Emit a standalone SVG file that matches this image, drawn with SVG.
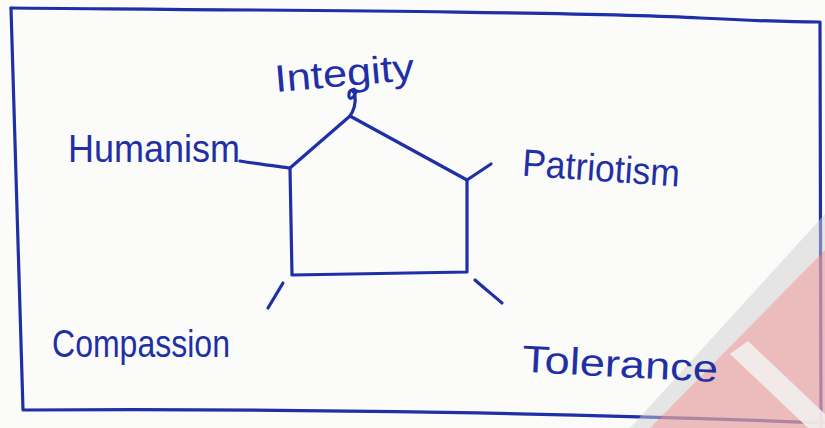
<svg xmlns="http://www.w3.org/2000/svg" width="825" height="428" viewBox="0 0 825 428">
<style>
.ink{fill:none;stroke:#1f2fa6;stroke-width:3.2;stroke-linecap:round;stroke-linejoin:round}
.lbl{font-family:"Liberation Sans","DejaVu Sans",sans-serif;font-size:38px;fill:#1f2fa6}
</style>
<rect x="0" y="0" width="825" height="428" fill="#fbfbfa"/>
<g id="frame">
<path class="ink" stroke-width="3.8" d="M11,8 C250,10 600,12 700,18 C760,21 790,22 820,22 L821,428"/>
<path class="ink" stroke-width="3.8" d="M11,8 L23,410 C300,408 600,414 825,423"/>
</g>
<g id="watermark">
<polygon points="825,214 825,250 650,428 630,428" fill="#cfcfcf" opacity="0.5"/>
<polygon points="825,250 825,428 650,428" fill="#e6a3a3" opacity="0.72"/>
<polygon points="730,354 748,341 825,414 825,428 808,428" fill="#f3eded" opacity="0.9"/>
</g>
<g id="house">
<path class="ink" d="M350,116 L290,168 L292,275 L467,272 L467,180 Z"/>
</g>
<g id="connectors">
<path class="ink" d="M240,161 C258,164 275,166 290,168"/>
<path class="ink" d="M350,116 C354,110 356,104 355,96 C354,90 350,88 349,94 C348,100 353,100 356,92"/>
<path class="ink" d="M467,180 L491,164"/>
<path class="ink" d="M283,283 L268,308"/>
<path class="ink" d="M475,280 C484,288 494,296 502,303"/>
</g>
<g id="label-integity"><text class="lbl" x="275" y="86" textLength="140" lengthAdjust="spacingAndGlyphs" transform="rotate(-5 345 80)">Integity</text></g>
<g id="label-humanism"><text class="lbl" x="68" y="162" textLength="172" lengthAdjust="spacingAndGlyphs">Humanism</text></g>
<g id="label-patriotism"><text class="lbl" x="522" y="181" textLength="158" lengthAdjust="spacingAndGlyphs" transform="rotate(4 600 170)">Patriotism</text></g>
<g id="label-compassion"><text class="lbl" x="52" y="357" textLength="178" lengthAdjust="spacingAndGlyphs">Compassion</text></g>
<g id="label-tolerance"><text class="lbl" x="522" y="377" textLength="196" lengthAdjust="spacingAndGlyphs" transform="rotate(3 620 365)">Tolerance</text></g>
</svg>
